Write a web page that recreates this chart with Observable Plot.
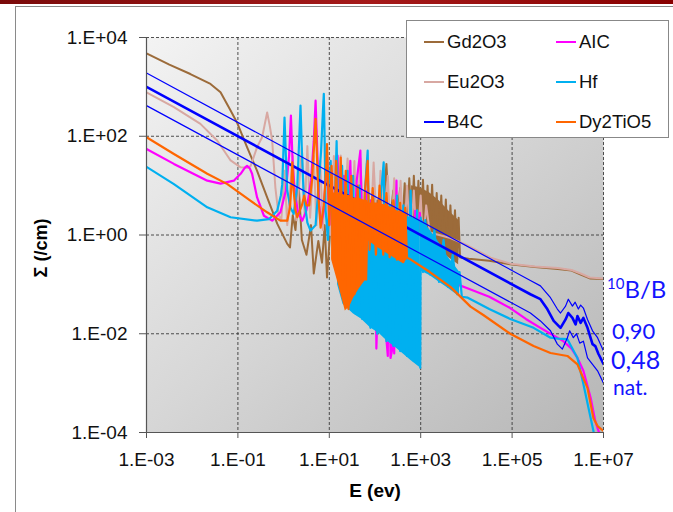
<!DOCTYPE html>
<html><head><meta charset="utf-8">
<script src="https://cdn.jsdelivr.net/npm/d3@7"></script>
<script src="https://cdn.jsdelivr.net/npm/@observablehq/plot@0.6"></script>
<style>
body{margin:0;width:673px;height:512px;overflow:hidden;background:#fff;font-family:"Liberation Sans",Arial,sans-serif;position:relative}
#bar{position:absolute;left:0;top:0;width:673px;height:4px;background:linear-gradient(90deg,#7a0a0a,#a51a1a 55%,#880000)}
#frame{position:absolute;left:15px;top:6px;width:700px;height:600px;border:1.5px solid #8a8a8a;box-sizing:border-box}
#chart{position:absolute;left:0;top:0}
#legend{position:absolute;left:406px;top:20px;width:263px;height:118px;background:#fff;border:1px solid #888;box-sizing:border-box}
.li{position:absolute;font-size:18.5px;color:#111;line-height:20px;white-space:nowrap}
.li span{display:inline-block;width:20px;height:2.5px;vertical-align:middle;margin-right:3px;position:relative;top:-1px}
.ann{position:absolute;color:#1414ff;font-family:Lato,sans-serif;white-space:nowrap;line-height:normal}
#ylab{position:absolute;left:41px;top:248px;transform:translate(-50%,-50%) rotate(-90deg);font-weight:bold;font-size:18px;white-space:nowrap}
#xlab{position:absolute;left:375px;top:480px;transform:translateX(-50%);font-weight:bold;font-size:19px;white-space:nowrap}
</style></head>
<body>
<div id="bar"></div>
<div id="frame"></div>
<div id="chart"></div>
<div id="ylab">Σ (/cm)</div>
<div id="xlab">E (ev)</div>
<div id="legend"></div>
<div class="ann" style="left:607px;top:274px;font-size:24px"><span style="font-size:15px;position:relative;top:-9px">10</span>B/B</div>
<div class="ann" style="left:612px;top:317px;font-size:22px">0,90</div>
<div class="ann" style="left:611px;top:344px;font-size:25px">0,48</div>
<div class="ann" style="left:613px;top:374px;font-size:21px">nat.</div>
<script>
// values are [log10(E in eV), log10(Σ in /cm)]
const gd2o3 = [[-3,3.68],[-2.5,3.45],[-2.04,3.26],[-1.6,3.06],[-1.38,2.89],[-1.16,2.52],[-1.02,2.28],[-0.8,1.78],[-0.58,1.30],[-0.36,0.76],[-0.14,0.23],[0.08,-0.18],[0.14,-0.25],[0.2,0.4],[0.26,0.1],[0.33,1.0],[0.4,-0.1],[0.5,-0.4],[0.6,0.2],[0.66,-0.78],[0.76,-0.12],[0.84,-0.56],[0.9,0.2],[0.95,-0.86],[1.05,0.5],[1.12,-0.4],[1.2,0.6],[1.28,-0.3],[1.35,0.5],[1.45,-0.1],[1.55,0.6],[1.62,0.0],[1.7,0.6],[1.8,0.0],[1.9,0.7],[1.95,0.1],[2.05,0.7],[2.15,0.1],[2.25,1.44],[2.32,0.2],[2.4,0.9],[2.47,0.2],[2.55,0.95],[2.6,0.2],[2.65,1.05],[2.7,0.1],[2.75,1.15],[2.8,0.1],[2.85,1.2],[2.9,0.05],[2.95,1.1],[3.0,0.0],[3.05,1.12],[3.1,-0.05],[3.15,1.0],[3.2,-0.1],[3.25,1.02],[3.3,-0.15],[3.35,0.85],[3.4,-0.2],[3.45,0.8],[3.5,-0.3],[3.55,0.72],[3.6,-0.35],[3.65,0.6],[3.7,-0.4],[3.75,0.5],[3.8,-0.5],[3.83,0.35],[3.86,-0.45],[3.9,-0.46],[4.05,-0.48],[4.5,-0.52],[5.0,-0.6],[5.5,-0.65],[6.0,-0.69],[6.3,-0.72],[6.5,-0.8],[6.7,-0.88],[7.0,-0.89]];
const gd2o3BandE = [2.8,3.0,3.2,3.4,3.6,3.83];
const gd2o3BandLo = [0.2,0.05,-0.1,-0.3,-0.45,-0.6];
const gd2o3BandHi = [1.0,0.95,0.85,0.7,0.5,0.3];

const eu2o3 = [[-3,2.89],[-2.4,2.59],[-1.82,2.25],[-1.45,1.91],[-1.16,1.51],[-0.94,1.37],[-0.8,1.36],[-0.72,1.40],[-0.58,1.78],[-0.47,1.98],[-0.4,2.3],[-0.36,2.48],[-0.3,2.2],[-0.25,1.91],[-0.18,0.96],[-0.11,0.4],[-0.05,0.3],[0.02,1.3],[0.08,0.2],[0.2,1.6],[0.28,0.3],[0.4,1.75],[0.46,0.4],[0.52,1.8],[0.58,0.35],[0.66,1.6],[0.72,0.2],[0.8,1.5],[0.86,0.1],[0.95,1.7],[1.02,0.0],[1.1,1.6],[1.18,0.05],[1.25,1.61],[1.32,0.1],[1.4,1.55],[1.48,0.05],[1.55,1.5],[1.6,0.0],[1.68,1.55],[1.75,-0.05],[1.82,1.45],[1.9,0.0],[1.97,1.47],[2.05,-0.1],[2.12,1.3],[2.2,-0.1],[2.28,1.2],[2.35,-0.15],[2.42,1.15],[2.5,-0.2],[2.56,1.1],[2.63,-0.25],[2.7,1.0],[2.78,-0.2],[2.85,0.9],[2.92,-0.25],[3.0,0.8],[3.05,-0.2],[3.12,0.6],[3.2,0.05],[3.65,-0.06],[4.0,-0.2],[4.53,-0.46],[4.96,-0.58],[5.5,-0.64],[6.0,-0.67],[6.3,-0.71],[6.5,-0.78],[6.7,-0.86],[7.0,-0.88]];

const aic = [[-3,1.74],[-2.4,1.44],[-1.67,1.10],[-1.38,1.04],[-1.09,1.10],[-0.94,1.24],[-0.85,1.36],[-0.8,1.40],[-0.74,1.35],[-0.69,1.24],[-0.58,0.76],[-0.43,0.39],[-0.25,0.29],[-0.07,0.46],[0.05,0.9],[0.12,1.6],[0.16,2.42],[0.2,1.4],[0.25,0.8],[0.32,0.45],[0.41,0.29],[0.5,0.5],[0.6,1.1],[0.66,1.9],[0.7,2.72],[0.74,1.6],[0.78,0.6],[0.82,0.2],[0.88,0.5],[0.95,1.6],[1.0,0.2],[1.05,1.3],[1.1,-0.1],[1.18,1.61],[1.25,-0.3],[1.32,1.2],[1.38,-0.4],[1.46,1.5],[1.52,-0.6],[1.6,1.1],[1.68,1.71],[1.74,-0.8],[1.8,0.9],[1.86,-1.0],[1.9,-0.9],[1.92,0.7],[1.97,-1.4],[2.01,0.5],[2.03,-2.3],[2.05,-1.7],[2.07,0.4],[2.12,-1.9],[2.18,0.3],[2.24,-2.0],[2.28,-2.45],[2.3,0.2],[2.34,-2.49],[2.38,-2.3],[2.4,0.1],[2.42,-2.4],[2.47,1.1],[2.5,-1.8],[2.56,0.2],[2.62,-2.1],[2.68,0.1],[2.74,-2.2],[2.78,-2.15],[2.8,0.3],[2.84,-2.0],[2.88,0.49],[2.93,0.15],[2.98,0.45],[3.05,-0.4],[3.2,-0.6],[3.5,-0.85],[3.8,-1.0],[4.05,-1.09],[4.5,-1.25],[4.96,-1.48],[5.3,-1.7],[5.62,-1.88],[5.84,-2.0],[6.12,-2.15],[6.3,-2.3],[6.43,-2.49],[6.56,-2.75],[6.72,-3.3],[6.82,-3.77],[6.89,-3.97],[6.95,-4.1]];

const hf = [[-3,1.38],[-2.4,1.03],[-1.67,0.56],[-1.16,0.36],[-0.58,0.29],[-0.32,0.32],[-0.14,0.49],[-0.06,0.8],[-0.03,1.03],[0.0,1.8],[0.02,2.38],[0.05,1.6],[0.08,0.9],[0.15,0.55],[0.22,0.43],[0.3,1.0],[0.34,1.9],[0.37,2.62],[0.4,1.7],[0.44,0.8],[0.52,0.25],[0.59,0.09],[0.7,0.2],[0.75,0.8],[0.82,1.7],[0.86,2.5],[0.88,2.86],[0.9,1.8],[0.92,0.5],[0.97,-0.1],[1.03,1.5],[1.08,-0.2],[1.13,0.9],[1.16,1.9],[1.19,0.5],[1.22,-0.8],[1.28,1.4],[1.34,-1.2],[1.40,1.3],[1.46,-1.5],[1.52,1.2],[1.58,-1.6],[1.66,1.0],[1.72,-1.7],[1.78,0.9],[1.84,1.71],[1.9,-1.88],[1.96,0.8],[2.05,-2.0],[2.12,0.7],[2.19,1.47],[2.25,-2.15],[2.32,0.6],[2.4,-2.25],[2.48,0.8],[2.55,-2.35],[2.62,0.6],[2.7,-2.45],[2.78,0.9],[2.85,-2.55],[2.92,0.5],[2.99,-2.69],[3.0,0.35],[3.05,-0.75],[3.1,0.3],[3.2,-0.8],[3.3,0.1],[3.4,-0.95],[3.5,-0.1],[3.6,-1.05],[3.7,-0.4],[3.8,-1.2],[3.85,-0.75],[3.9,-1.25],[4.03,-1.27],[4.5,-1.5],[4.96,-1.70],[5.47,-1.88],[5.84,-2.08],[6.0,-2.1],[6.21,-2.11],[6.43,-2.49],[6.56,-3.02],[6.72,-3.71],[6.78,-3.97],[6.8,-4.1]];
const hfBand1E = [1.18,1.3,1.53,1.7,1.9,2.1,2.27,2.45,2.62,2.8,2.99];
const hfBand1Lo = [-1.0,-1.4,-1.6,-1.7,-1.88,-2.0,-2.15,-2.28,-2.41,-2.55,-2.69];
const hfBand1Hi = [0.6,0.6,0.6,0.55,0.5,0.5,0.45,0.4,0.4,0.35,0.3];
const hfBand2E = [3.0,3.2,3.4,3.6,3.85];
const hfBand2Lo = [-0.73,-0.82,-0.95,-1.08,-1.25];
const hfBand2Hi = [0.35,0.1,-0.15,-0.45,-0.75];

const dy2tio5 = [[-3,1.98],[-2.4,1.64],[-1.67,1.24],[-1.23,1.03],[-0.72,0.69],[-0.36,0.46],[-0.07,0.29],[0.08,0.29],[0.14,0.55],[0.17,1.0],[0.19,1.47],[0.22,0.9],[0.26,0.5],[0.3,0.36],[0.4,0.6],[0.45,0.8],[0.5,0.6],[0.56,0.6],[0.62,1.1],[0.66,1.7],[0.7,2.35],[0.73,1.6],[0.76,0.8],[0.81,0.15],[0.88,0.6],[0.93,1.3],[0.95,1.84],[0.97,1.2],[1.0,0.2],[1.05,1.4],[1.1,-0.3],[1.15,1.5],[1.2,-0.5],[1.25,1.57],[1.3,-0.9],[1.36,1.3],[1.42,-1.5],[1.48,1.2],[1.55,-1.2],[1.62,1.0],[1.7,-0.9],[1.78,0.9],[1.84,1.5],[1.88,-0.3],[1.95,0.95],[2.02,-0.4],[2.1,1.0],[2.18,-0.4],[2.25,0.85],[2.32,-0.45],[2.4,0.7],[2.48,-0.5],[2.55,0.65],[2.62,-0.55],[2.66,0.55],[2.7,-0.46],[2.75,-0.48],[3.2,-0.75],[3.65,-1.05],[4.09,-1.45],[4.37,-1.62],[4.96,-2.0],[5.47,-2.25],[5.84,-2.39],[6.21,-2.45],[6.43,-2.62],[6.65,-3.1],[6.78,-3.71],[6.87,-3.87],[7.0,-3.97]];
const dyBandE = [1.05,1.2,1.35,1.45,1.53,1.65,1.78,1.84,1.86,2.05,2.27,2.45,2.62,2.7];
const dyBandLo = [-0.5,-1.0,-1.54,-1.45,-1.28,-1.1,-0.93,-0.93,-0.12,-0.25,-0.38,-0.48,-0.58,-0.5];
const dyBandHi = [0.85,0.85,0.8,0.8,0.75,0.75,0.7,0.7,0.65,0.65,0.6,0.5,0.45,0.4];

const b4c048 = [[-3,3.0],[5.4,-1.2],[5.62,-1.30],[5.77,-1.50],[5.91,-1.74],[6.06,-1.88],[6.17,-1.71],[6.23,-1.58],[6.32,-1.68],[6.39,-1.81],[6.43,-1.64],[6.5,-1.78],[6.56,-1.68],[6.65,-1.88],[6.76,-2.21],[6.82,-2.25],[6.89,-2.41],[7.0,-2.61]];
const b4c090 = [[-3,3.28],[5.4,-0.92],[5.62,-1.03],[5.84,-1.27],[5.99,-1.50],[6.06,-1.58],[6.17,-1.44],[6.23,-1.30],[6.32,-1.44],[6.38,-1.36],[6.45,-1.50],[6.5,-1.42],[6.56,-1.48],[6.65,-1.71],[6.76,-1.94],[6.87,-2.08],[7.0,-2.35]];
const b4cNat = [[-3,2.62],[5.4,-1.58],[5.62,-1.74],[5.84,-1.94],[5.99,-2.21],[6.10,-2.31],[6.21,-2.08],[6.26,-1.94],[6.34,-2.08],[6.41,-2.0],[6.48,-2.19],[6.56,-2.15],[6.65,-2.49],[6.76,-2.62],[6.87,-2.75],[7.0,-3.0]];

const xTicks = [1e-3,1e-1,1e1,1e3,1e5,1e7];
const xTickLabels = ["1.E-03","1.E-01","1.E+01","1.E+03","1.E+05","1.E+07"];
const yTicks = [1e-4,1e-2,1e0,1e2,1e4];
const yTickLabels = ["1.E-04","1.E-02","1.E+00","1.E+02","1.E+04"];

const legendNames = ["Gd2O3","Eu2O3","B4C","AIC","Hf","Dy2TiO5"];
const colors = {Gd2O3:"#9c6b3a",Eu2O3:"#d8a8a2",B4C:"#0000ff",AIC:"#ff00ff",Hf:"#00b0f0",Dy2TiO5:"#ff6600"};

const toPts = arr => arr.map(([e,s]) => ({E: 10**e, S: 10**s}));
const toBand = (E,lo,hi) => E.map((e,i) => ({E:10**e, lo:10**lo[i], hi:10**hi[i]}));
const ln = (arr, c, w) => Plot.line(toPts(arr), {x:"E", y:"S", stroke:c, strokeWidth:w, clip:true, strokeLinejoin:"round"});
const band = (E,lo,hi,c) => Plot.areaY(toBand(E,lo,hi), {x:"E", y1:"lo", y2:"hi", fill:c, clip:true});

const svg = Plot.plot({
  width:673, height:512,
  marginLeft:146, marginRight:70, marginTop:37, marginBottom:80,
  style:{fontFamily:"'Liberation Sans', Arial, sans-serif", fontSize:"19px", background:"transparent", color:"#111"},
  x:{type:"log", domain:[1e-3,1e7]},
  y:{type:"log", domain:[1e-4,1e4]},
  marks:[
    Plot.frame({fill:"url(#bg)", stroke:null}),
    Plot.gridX([1e-1,1e1,1e3,1e5,1e7], {stroke:"#333", strokeOpacity:0.85, strokeDasharray:"3,2"}),
    Plot.gridY([1e-2,1e0,1e2,1e4], {stroke:"#333", strokeOpacity:0.85, strokeDasharray:"3,2"}),
    band(gd2o3BandE, gd2o3BandLo, gd2o3BandHi, colors.Gd2O3),
    ln(gd2o3, colors.Gd2O3, 2),
    ln(eu2o3, colors.Eu2O3, 2),
    ln(aic, colors.AIC, 2.2),
    band(hfBand1E, hfBand1Lo, hfBand1Hi, colors.Hf),
    band(hfBand2E, hfBand2Lo, hfBand2Hi, colors.Hf),
    ln(hf, colors.Hf, 2.2),
    ln(b4c048, colors.B4C, 2.6),
    band(dyBandE, dyBandLo, dyBandHi, colors.Dy2TiO5),
    ln(dy2tio5, colors.Dy2TiO5, 2.2),
    ln(b4c090, colors.B4C, 1.2),
    ln(b4cNat, colors.B4C, 1.2),
    Plot.ruleX([1e-3], {stroke:"#555", strokeWidth:1.2}),
    Plot.ruleY([1e-4], {stroke:"#555", strokeWidth:1.2}),
    Plot.axisX(xTicks, {tickSize:6, tickPadding:14, tickFormat:(d)=>xTickLabels[xTicks.indexOf(d)], stroke:"#555", label:null, fontSize:19}),
    Plot.axisY(yTicks, {tickSize:7, tickPadding:12, tickFormat:(d)=>yTickLabels[yTicks.indexOf(d)], stroke:"#555", label:null, fontSize:19})
  ]
});
const defs = d3.select(svg).insert("defs", ":first-child");
const g = defs.append("linearGradient").attr("id","bg").attr("x1","0").attr("y1","0").attr("x2","1").attr("y2","1");
g.append("stop").attr("offset","0").attr("stop-color","#f3f3f3");
g.append("stop").attr("offset","0.5").attr("stop-color","#d6d6d6");
g.append("stop").attr("offset","1").attr("stop-color","#b6b6b6");
document.getElementById("chart").appendChild(svg);

// legend
const leg = document.getElementById("legend");
legendNames.forEach((n,i) => {
  const col = Math.floor(i/3), row = i%3;
  const d = document.createElement("div");
  d.className = "li";
  d.style.left = (17 + col*132) + "px";
  d.style.top = (11 + row*40) + "px";
  d.innerHTML = `<span style="background:${colors[n]}"></span>${n}`;
  leg.appendChild(d);
});
</script>
</body></html>
